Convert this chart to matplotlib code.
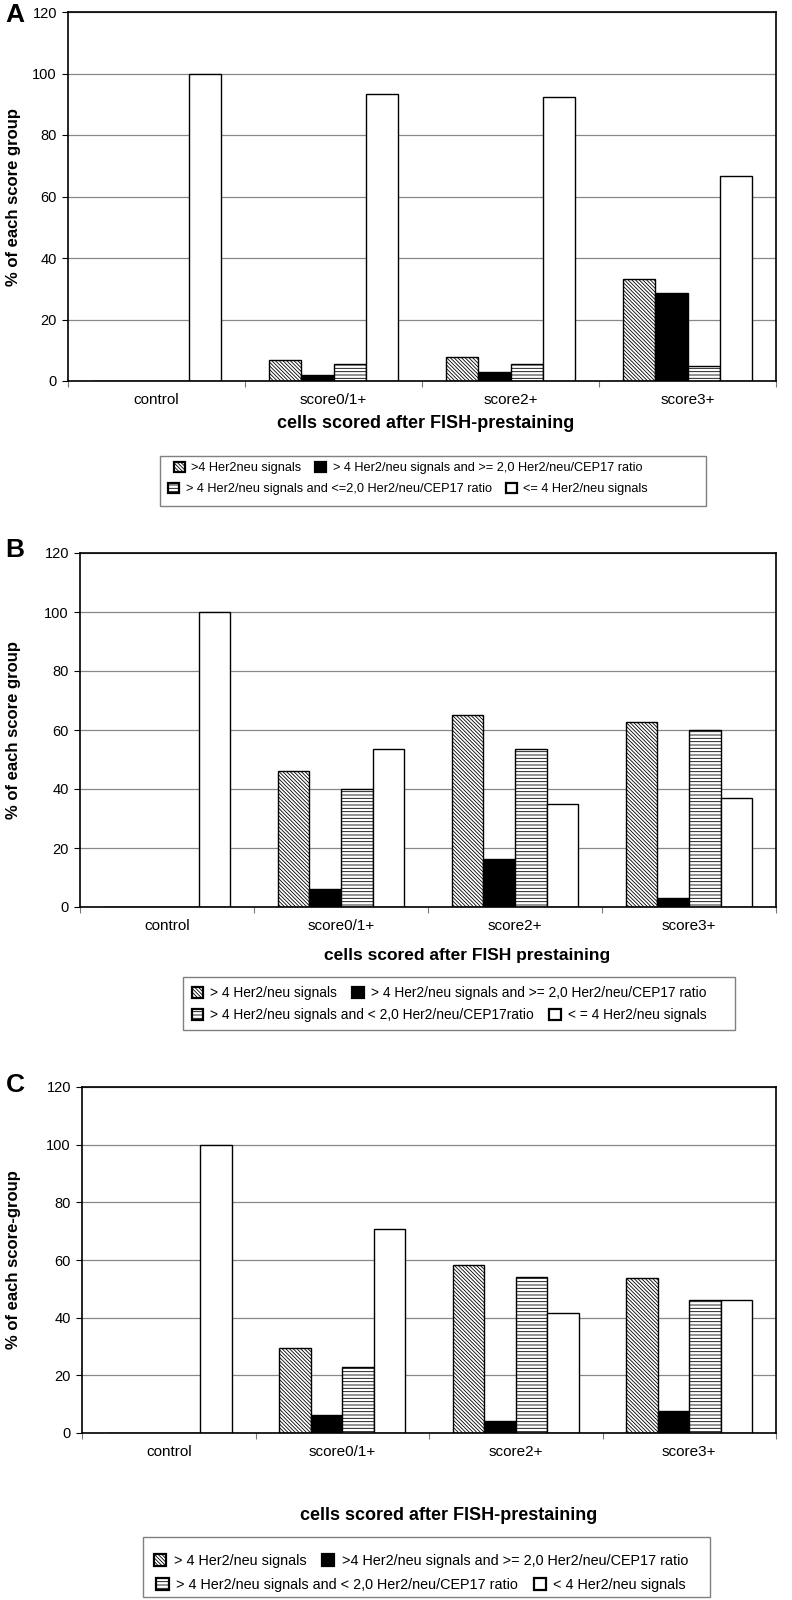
import numpy as np
import matplotlib.pyplot as plt
from matplotlib.patches import Patch, Rectangle

plt.rcParams['font.family'] = ['Liberation Sans', 'DejaVu Sans']
plt.rcParams['hatch.linewidth'] = 0.6

categories = ['control', 'score0/1+', 'score2+', 'score3+']

# panel A: FISH-prestaining, score groups
a_diag = [0, 6.7, 7.7, 33.3]
a_black = [0, 1.8, 2.8, 28.6]
a_horiz = [0, 5.5, 5.6, 4.8]
a_white = [100, 93.3, 92.3, 66.7]

# panel B
b_diag = [0, 46.1, 65.2, 62.8]
b_black = [0, 6.2, 16.4, 2.9]
b_horiz = [0, 40.0, 53.6, 59.9]
b_white = [100, 53.7, 35.0, 37.1]

# panel C
c_diag = [0, 29.4, 58.2, 53.8]
c_black = [0, 6.4, 4.1, 7.7]
c_horiz = [0, 23.0, 54.1, 46.0]
c_white = [100, 70.6, 41.6, 46.1]

a_labels = ['>4 Her2neu signals',
            '> 4 Her2/neu signals and >= 2,0 Her2/neu/CEP17 ratio',
            '> 4 Her2/neu signals and <=2,0 Her2/neu/CEP17 ratio',
            '<= 4 Her2/neu signals']
b_labels = ['> 4 Her2/neu signals',
            '> 4 Her2/neu signals and >= 2,0 Her2/neu/CEP17 ratio',
            '> 4 Her2/neu signals and < 2,0 Her2/neu/CEP17ratio',
            '< = 4 Her2/neu signals']
c_labels = ['> 4 Her2/neu signals',
            '>4 Her2/neu signals and >= 2,0 Her2/neu/CEP17 ratio',
            '> 4 Her2/neu signals and < 2,0 Her2/neu/CEP17 ratio',
            '< 4 Her2/neu signals']

styles = [dict(facecolor='white', hatch='\\' * 9),
          dict(facecolor='black', hatch=None),
          dict(facecolor='white', hatch='-----'),
          dict(facecolor='white', hatch=None)]

W, H = 792, 1600
fig = plt.figure(figsize=(W / 100, H / 100), dpi=100)


def fx(px):
    return px / W


def fy(py):
    return 1 - py / H


def draw_panel(ax_px, series, letter, letter_y, ylabel, xlabel, xlabel_xy,
               xlabel_size, labels, leg_size, box_px, row_ys, row_x):
    l, t, r, b = ax_px
    ax = fig.add_axes([fx(l), fy(b), (r - l) / W, (b - t) / H])
    x = np.arange(len(categories))
    w = 1 / 5.5
    for i, vals in enumerate(series):
        ax.bar(x + (i - 1.5) * w, vals, w, edgecolor='black', linewidth=1.0,
               **styles[i])
    ax.set_xlim(-0.5, 3.5)
    ax.set_ylim(0, 120)
    ax.set_yticks(range(0, 121, 20))
    ax.set_xticks(np.arange(-0.5, 4, 1))
    ax.set_xticklabels([])
    ax.set_xticks(x, minor=True)
    ax.set_xticklabels(categories, minor=True, fontsize=11)
    ax.tick_params(axis='x', which='minor', length=0, pad=9)
    ax.tick_params(axis='x', which='major', length=4, color='#777777')
    ax.tick_params(axis='y', length=4, labelsize=10.5, pad=4)
    ax.yaxis.grid(True, color='#888888', linewidth=0.9)
    ax.set_axisbelow(True)
    for s in ax.spines.values():
        s.set_linewidth(1.2)

    fig.text(fx(15), fy(letter_y), letter, fontsize=19, fontweight='bold',
             ha='center', va='center')
    fig.text(fx(14), fy((t + b) / 2), ylabel, fontsize=12,
             fontweight='bold', rotation=90, ha='center', va='center')
    fig.text(fx(xlabel_xy[0]), fy(xlabel_xy[1]), xlabel, fontsize=xlabel_size,
             fontweight='bold', ha='center', va='center')

    handles = [Patch(edgecolor='black', linewidth=1.6, **st) for st in styles]
    for k, ry in enumerate(row_ys):
        fig.legend(handles[2 * k:2 * k + 2], labels[2 * k:2 * k + 2],
                   loc='center', bbox_to_anchor=(fx(row_x), fy(ry)),
                   ncol=2, frameon=False, fontsize=leg_size, handlelength=0.85,
                   handleheight=0.85, handletextpad=0.5, columnspacing=1.1,
                   borderpad=0, borderaxespad=0)
    bl, bt, br, bb = box_px
    fig.add_artist(Rectangle((fx(bl), fy(bb)), (br - bl) / W, (bb - bt) / H,
                             transform=fig.transFigure, fill=False,
                             edgecolor='#808080', linewidth=1.0))


draw_panel((68, 12, 776, 381), [a_diag, a_black, a_horiz, a_white],
           'A', 15, '% of each score group',
           'cells scored after FISH-prestaining', (426, 424), 13,
           a_labels, 9.2, (160, 456, 706, 506), (468, 489), 408)
draw_panel((80, 553, 776, 907), [b_diag, b_black, b_horiz, b_white],
           'B', 550, '% of each score group',
           'cells scored after FISH prestaining', (467, 955), 12.5,
           b_labels, 9.9, (183, 977, 735, 1030), (993, 1015), 449)
draw_panel((82, 1087, 776, 1433), [c_diag, c_black, c_horiz, c_white],
           'C', 1085, '% of each score-group',
           'cells scored after FISH-prestaining', (449, 1515), 13,
           c_labels, 10.4, (143, 1537, 710, 1597), (1561, 1585), 421)

fig.savefig('out.png', dpi=100)
